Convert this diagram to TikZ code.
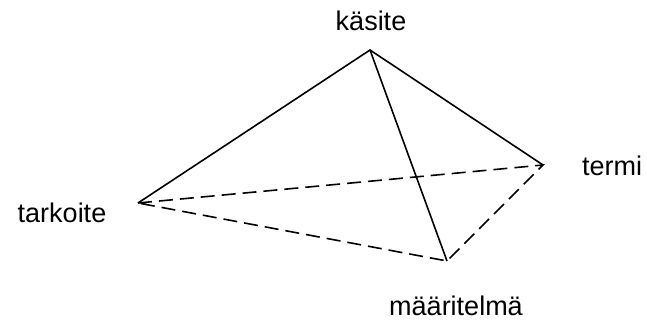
\documentclass[tikz,border=0pt]{standalone}
\usepackage{fontspec}
\setmainfont{Liberation Sans}
\usetikzlibrary{positioning}
\tikzset{
    edge/.style={line width=1.6pt},
    hidden/.style={line width=1.6pt,dash pattern=on 14pt off 7pt},
    lbl/.style={font=\fontsize{27}{32}\selectfont}
}
\begin{document}
\begin{tikzpicture}[x=1pt,y=1pt]
    \useasboundingbox (0,0) rectangle (647,326);
    % corners of the pyramid
    \coordinate (kasite) at (370,276);
    \coordinate (tarkoite) at (138,123);
    \coordinate (termi) at (543,161);
    \coordinate (maaritelma) at (447,65);

    \node[lbl] (kasiteText) at (371,305) {käsite};
    \node[lbl] (tarkoiteText) at (62,113) {tarkoite};
    \node[lbl] (termiText) at (612,160) {termi};
    \node[lbl] (maaritelmaText) at (456,20) {määritelmä};

    \draw[edge] (tarkoite) -- (kasite) -- (termi);
    \draw[edge] (kasite) -- (maaritelma);
    \draw[hidden] (tarkoite) -- (termi) -- (maaritelma) -- (tarkoite);
\end{tikzpicture}
\end{document}
